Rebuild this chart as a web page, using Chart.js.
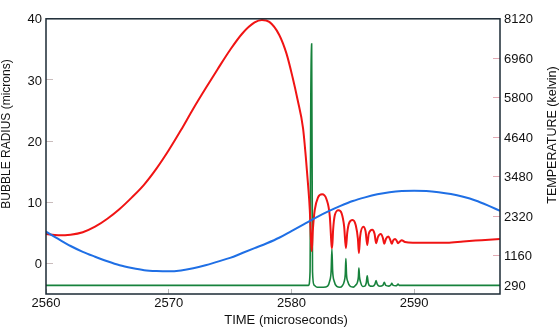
<!DOCTYPE html>
<html>
<head>
<meta charset="utf-8">
<script src="https://cdn.jsdelivr.net/npm/chart.js@4/dist/chart.umd.min.js"></script>
<style>
html,body{margin:0;padding:0;background:#ffffff;}
#wrap{width:560px;height:327px;}
</style>
</head>
<body>
<div id="wrap"><canvas id="c" width="560" height="327"></canvas></div>
<script>
// ---- tick labels ----
const xTicks = [2560, 2570, 2580, 2590];
const leftTicks = [0, 10, 20, 30, 40];
const rightTicks = [290, 1160, 2320, 3480, 4640, 5800, 6960, 8120];

// ---- titles ----
const xTitle = 'TIME (microseconds)';
const leftTitle = 'BUBBLE RADIUS (microns)';
const rightTitle = 'TEMPERATURE (kelvin)';

// ---- bubble radius (microns), red ----
const radiusTime = [2560, 2561, 2562, 2563, 2564, 2565, 2566, 2567, 2568, 2569, 2570, 2571, 2572, 2573,
  2574, 2575, 2576, 2577, 2577.6, 2578.2, 2579.0, 2579.6, 2580.1, 2580.5, 2580.95, 2581.17,
  2581.36, 2581.5, 2581.6, 2581.66, 2581.75, 2581.9, 2582.17, 2582.5, 2582.86, 2583.13, 2583.27, 2583.32,
  2583.4, 2583.54, 2583.84, 2584.09, 2584.3, 2584.44, 2584.55, 2584.7, 2584.99, 2585.25, 2585.42, 2585.5,
  2585.6, 2585.86, 2586.05, 2586.18, 2586.3, 2586.59, 2586.78, 2586.9, 2587.05, 2587.28, 2587.45, 2587.57,
  2587.7, 2587.9, 2588.05, 2588.18, 2588.3, 2588.45, 2588.58, 2588.69, 2588.85, 2588.99, 2589.26, 2589.9,
  2591, 2592.7, 2594, 2595.5, 2597];
const radiusValues = [4.8, 4.6, 4.7, 5.1, 6.0, 7.3, 8.9, 10.8, 12.9, 15.5, 18.5, 21.8, 25.3, 28.6,
  31.8, 34.9, 37.6, 39.4, 39.8, 39.5, 37.4, 34.3, 30.4, 26.8, 22.1, 17.5,
  12.8, 8.7, 3.5, 2.0, 5.5, 8.7, 10.8, 11.3, 10.5, 7.7, 3.0, 2.5,
  5.5, 7.9, 8.7, 8.2, 6.0, 2.5, 5.0, 6.6, 7.1, 6.2, 4.0, 1.7,
  4.4, 6.0, 5.2, 3.0, 4.8, 5.5, 4.8, 3.3, 4.3, 4.8, 4.2, 3.2,
  4.0, 4.4, 3.9, 3.2, 3.8, 4.0, 3.7, 3.3, 3.6, 3.8, 3.5, 3.4,
  3.4, 3.4, 3.6, 3.8, 4.0];

// ---- driving curve (blue), left axis ----
const driveTime = [2560, 2561, 2562, 2563, 2564, 2565, 2566, 2567, 2568, 2569, 2570, 2571, 2572, 2573,
  2574, 2575, 2576, 2577, 2578, 2579, 2580, 2581, 2582, 2583, 2584, 2585, 2586, 2587, 2588, 2589,
  2590, 2591, 2592, 2593, 2594, 2595, 2596, 2597];
const driveValues = [5.2, 4.0, 2.85, 1.9, 1.1, 0.35, -0.3, -0.75, -1.1, -1.25, -1.3, -1.15, -0.8, -0.3,
  0.3, 0.9, 1.7, 2.5, 3.3, 4.2, 5.3, 6.4, 7.5, 8.5, 9.4, 10.2, 10.8, 11.3, 11.65, 11.85,
  11.9, 11.85, 11.65, 11.35, 10.9, 10.3, 9.5, 8.6];

// ---- temperature (kelvin), green ----
const tempTime = [2560, 2581.40, 2581.52, 2581.60, 2581.65, 2581.72, 2581.85, 2582.1, 2582.6, 2582.95,
  2583.12, 2583.24, 2583.30, 2583.36, 2583.48, 2583.7, 2583.95, 2584.15, 2584.30, 2584.39, 2584.44,
  2584.49, 2584.60, 2584.8, 2585.05, 2585.22, 2585.38, 2585.46, 2585.50, 2585.55, 2585.64, 2585.82,
  2585.98, 2586.10, 2586.18, 2586.26, 2586.42, 2586.62, 2586.80, 2586.90, 2587.00, 2587.20, 2587.45,
  2587.57, 2587.69, 2587.95, 2588.10, 2588.18, 2588.27, 2588.50, 2588.62, 2588.69, 2588.78, 2589.0, 2597];
const tempValues = [290, 290, 700, 7377, 7377, 700, 300, 235, 235, 270,
  420, 720, 1357, 720, 420, 260, 235, 280, 400, 620, 1079,
  620, 400, 260, 240, 290, 380, 540, 800, 540, 380, 260,
  270, 360, 570, 360, 270, 265, 320, 430, 320, 265, 290,
  380, 290, 270, 300, 350, 300, 280, 300, 330, 290, 290, 290];

const zip = (t, v) => t.map((x, i) => ({x: x, y: v[i]}));

const FONT = '"Liberation Sans", Arial, Helvetica, sans-serif';

const framePlugin = {
  id: 'frameAndTitles',
  afterDraw(chart) {
    const {ctx, chartArea: a} = chart;
    ctx.save();
    ctx.strokeStyle = '#1b2a35';
    ctx.lineWidth = 1.5;
    ctx.strokeRect(a.left, a.top, a.right - a.left, a.bottom - a.top);
    ctx.fillStyle = '#111111';
    ctx.textAlign = 'center';
    ctx.textBaseline = 'middle';
    ctx.font = '13px ' + FONT;
    ctx.fillText(xTitle, 286, 320);
    ctx.save();
    ctx.translate(7, 134);
    ctx.rotate(-Math.PI / 2);
    ctx.font = '12px ' + FONT;
    ctx.fillText(leftTitle, 0, 0);
    ctx.restore();
    ctx.save();
    ctx.translate(553, 135);
    ctx.rotate(-Math.PI / 2);
    ctx.font = '12.5px ' + FONT;
    ctx.fillText(rightTitle, 0, 0);
    ctx.restore();
    ctx.restore();
  }
};

const setTicks = (vals) => (scale) => { scale.ticks = vals.map(v => ({value: v})); };
const plain = (v) => String(v);

new Chart(document.getElementById('c'), {
  type: 'line',
  data: {
    datasets: [
      {
        label: 'Driving',
        data: zip(driveTime, driveValues),
        yAxisID: 'yL',
        borderColor: '#1f6fe5',
        borderWidth: 2,
        pointRadius: 0,
        cubicInterpolationMode: 'monotone',
        fill: false
      },
      {
        label: 'Bubble radius',
        data: zip(radiusTime, radiusValues),
        yAxisID: 'yL',
        borderColor: '#f01414',
        borderWidth: 2,
        pointRadius: 0,
        cubicInterpolationMode: 'monotone',
        fill: false
      },
      {
        label: 'Temperature',
        data: zip(tempTime, tempValues),
        yAxisID: 'yR',
        borderColor: '#17823c',
        borderWidth: 1.6,
        pointRadius: 0,
        cubicInterpolationMode: 'monotone',
        fill: false
      }
    ]
  },
  options: {
    responsive: false,
    animation: false,
    devicePixelRatio: 1,
    layout: {padding: {top: 4, left: 0, right: 0, bottom: 0}},
    plugins: {legend: {display: false}, tooltip: {enabled: false}, title: {display: false}},
    scales: {
      x: {
        type: 'linear',
        position: 'bottom',
        min: 2560,
        max: 2597,
        afterBuildTicks: setTicks(xTicks),
        afterFit: (s) => { s.height = 33; },
        grid: {display: true, drawOnChartArea: false, drawTicks: true, tickLength: -5, color: '#b9b9b9', lineWidth: 1},
        border: {display: false},
        ticks: {font: {family: FONT, size: 13}, color: '#111111', padding: 7, maxRotation: 0, autoSkip: false, callback: plain},
        title: {display: false}
      },
      yL: {
        type: 'linear',
        position: 'left',
        min: -5,
        max: 40,
        afterBuildTicks: setTicks(leftTicks),
        afterFit: (s) => { s.width = 46; },
        grid: {display: true, drawOnChartArea: false, drawTicks: true, tickLength: -7, color: '#c9bcbc', lineWidth: 1},
        border: {display: false},
        ticks: {font: {family: FONT, size: 13}, color: '#111111', padding: 11, labelOffset: 1, autoSkip: false, callback: plain},
        title: {display: false}
      },
      yR: {
        type: 'linear',
        position: 'right',
        min: 38,
        max: 8120,
        afterBuildTicks: setTicks(rightTicks),
        afterFit: (s) => { s.width = 60; },
        grid: {display: true, drawOnChartArea: false, drawTicks: true, tickLength: -7, color: '#e3aab4', lineWidth: 1},
        border: {display: false},
        ticks: {font: {family: FONT, size: 13}, color: '#111111', padding: 11, labelOffset: 1, autoSkip: false, callback: plain},
        title: {display: false}
      }
    }
  },
  plugins: [framePlugin]
});
</script>
</body>
</html>
